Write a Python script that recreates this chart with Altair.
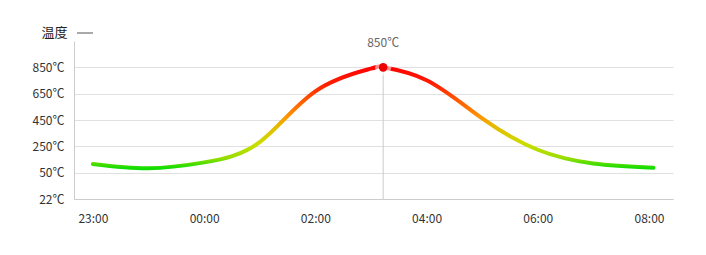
import altair as alt
import pandas as pd

# x positions are category indices (0 = 23:00 ... 5 = 08:00)
x_idx = [0.00, 0.50, 1.00, 1.50, 2.00, 2.50, 2.61, 3.00, 3.50, 4.00, 4.50, 5.04]
temps = [116, 83, 128, 282, 668, 840, 850, 752, 462, 224, 120, 88]
tick_labels = ["23:00", "00:00", "02:00", "04:00", "06:00", "08:00"]
y_ticks = [-150, 50, 250, 450, 650, 850]
peak_x = [2.61]
peak_val = [850]

df = pd.DataFrame({"x": x_idx, "t": temps})
peak = pd.DataFrame({"x": peak_x, "t": peak_val, "label": ["850℃"]})

FONT = "Noto Sans CJK SC"
W, H = 599, 158

xscale = alt.Scale(domain=[-0.17, 5.216], nice=False, zero=False)
yscale = alt.Scale(domain=[-150, 1050], nice=False, zero=False)

label_expr = "[" + ",".join("'%s'" % s for s in tick_labels) + "][round(datum.value)]"

xaxis = alt.Axis(values=list(range(6)), tickCount=12, labelExpr=label_expr, ticks=False, grid=False,
                 domainColor="#cccccc", labelPadding=14, labelFontSize=12,
                 labelColor="#333333", labelFont=FONT, title=None, labelOverlap=False,
                 labelFlush=False)
yaxis = alt.Axis(values=y_ticks, tickCount=12,
                 labelExpr="datum.value == -150 ? '22℃' : datum.value + '℃'",
                 ticks=False, grid=True, gridColor="#e0e0e0", domainColor="#cccccc",
                 labelPadding=10, labelFontSize=12, labelColor="#333333", labelFont=FONT,
                 labelOverlap=False, labelFlush=False,
                 title="温度", titleAngle=0, titleAlign="right", titleBaseline="middle",
                 titleX=-7, titleY=-9, titleFont=FONT, titleFontSize=13,
                 titleFontWeight="normal", titleColor="#222222")

grad = alt.Gradient(
    gradient="linear", x1=0, x2=0, y1=1, y2=0,
    stops=[
        alt.GradientStop(color="#11dd00", offset=0.0),
        alt.GradientStop(color="#99dd00", offset=0.10),
        alt.GradientStop(color="#ccdd00", offset=0.24),
        alt.GradientStop(color="#e6b800", offset=0.42),
        alt.GradientStop(color="#ff9000", offset=0.52),
        alt.GradientStop(color="#ff6a00", offset=0.62),
        alt.GradientStop(color="#ff2000", offset=0.82),
        alt.GradientStop(color="#ff0000", offset=1.0),
    ],
)

base_x = alt.X("x:Q", scale=xscale, axis=xaxis)
base_y = alt.Y("t:Q", scale=yscale, axis=yaxis)

line = alt.Chart(df).mark_line(interpolate="natural", strokeWidth=4, stroke=grad,
                               strokeCap="round").encode(x=base_x, y=base_y)

vrule = alt.Chart(peak).mark_rule(color="#cccccc", strokeWidth=1).encode(
    x=alt.X("x:Q", scale=xscale), y=alt.Y("t:Q", scale=yscale), y2=alt.value(H))

halo = alt.Chart(peak).mark_circle(size=260, color="white", opacity=0.55).encode(
    x=alt.X("x:Q", scale=xscale), y=alt.Y("t:Q", scale=yscale))

dot = alt.Chart(peak).mark_circle(size=75, color="#ee0000", opacity=1).encode(
    x=alt.X("x:Q", scale=xscale), y=alt.Y("t:Q", scale=yscale))

lbl = alt.Chart(peak).mark_text(dy=-24, fontSize=12, color="#666666", font=FONT).encode(
    x=alt.X("x:Q", scale=xscale), y=alt.Y("t:Q", scale=yscale), text="label:N")

dash = alt.Chart(peak).mark_rule(color="#555555", strokeWidth=1).encode(
    x=alt.value(3), x2=alt.value(19), y=alt.value(-8))

chart = alt.layer(line, vrule, halo, dot, lbl, dash).properties(
    width=W, height=H,
    background="white",
    autosize=alt.AutoSizeParams(type="none"),
    padding={"left": 74, "top": 41, "right": 33, "bottom": 56},
).configure_view(stroke=None)

chart.save("out.html", embed_options={"renderer": "svg", "actions": False})
